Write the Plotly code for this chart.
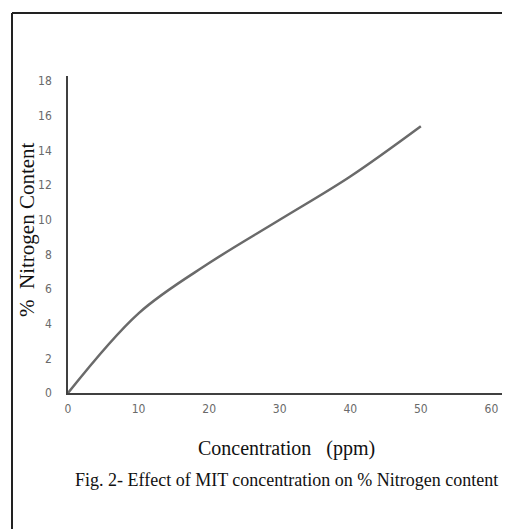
import plotly.graph_objects as go

concentration = [0, 10, 20, 30, 40, 50]
nitrogen = [0, 4.6, 7.5, 10.0, 12.5, 15.4]
x_ticks = [0, 10, 20, 30, 40, 50, 60]
y_ticks = [0, 2, 4, 6, 8, 10, 12, 14, 16, 18]

# page offset (browser body margin)
OFF = 8
W, H = 510 - OFF, 529 - OFF
L, R, T, B = 68 - OFF, 8, 76 - OFF, 144 - OFF
pw, ph = W - L - R, H - T - B

def px(x):
    return (x - OFF - L) / pw

def py(y):
    return (H - B - (y - OFF)) / ph

fig = go.Figure()
fig.add_trace(go.Scatter(
    x=concentration, y=nitrogen, mode="lines",
    line=dict(color="#6a6a6a", width=2.5, shape="spline", smoothing=1.0),
    showlegend=False, hoverinfo="skip"))

tickfont = dict(family="Liberation Sans Narrow, DejaVu Sans Condensed, sans-serif", size=12, color="#6a6a6a")

fig.update_layout(
    width=W, height=H,
    margin=dict(l=L, r=R, t=T, b=B),
    paper_bgcolor="white", plot_bgcolor="white",
    xaxis=dict(range=[0, 61.5], tickvals=x_ticks, showgrid=False, zeroline=False,
               showline=True, linecolor="#404040", linewidth=1.5, ticks="",
               tickfont=tickfont, ticklabelstandoff=4),
    yaxis=dict(range=[0, 18.3], tickvals=y_ticks, showgrid=False, zeroline=False,
               showline=True, linecolor="#404040", linewidth=1.5, ticks="",
               tickfont=tickfont, ticklabelstandoff=12),
    shapes=[
        dict(type="line", xref="paper", yref="paper", x0=px(12), x1=px(512), y0=py(13), y1=py(13),
             line=dict(color="#222222", width=2)),
        dict(type="line", xref="paper", yref="paper", x0=px(12), x1=px(12), y0=py(13), y1=py(531),
             line=dict(color="#222222", width=2)),
    ],
    annotations=[
        dict(text="%  Nitrogen Content", xref="paper", yref="paper", x=px(27), y=py(230),
             textangle=-90, showarrow=False, xanchor="center", yanchor="middle",
             font=dict(family="Liberation Serif, Times New Roman, serif", size=21, color="#111111")),
        dict(text="Concentration   (ppm)", xref="paper", yref="paper", x=px(286), y=py(448),
             showarrow=False, xanchor="center", yanchor="middle",
             font=dict(family="Liberation Serif, Times New Roman, serif", size=20, color="#111111")),
        dict(text="Fig. 2- Effect of MIT concentration on % Nitrogen content", xref="paper", yref="paper",
             x=px(286.5), y=py(480), showarrow=False, xanchor="center", yanchor="middle",
             font=dict(family="Liberation Serif, Times New Roman, serif", size=18, color="#111111")),
    ],
)

fig.write_html("out.html")
